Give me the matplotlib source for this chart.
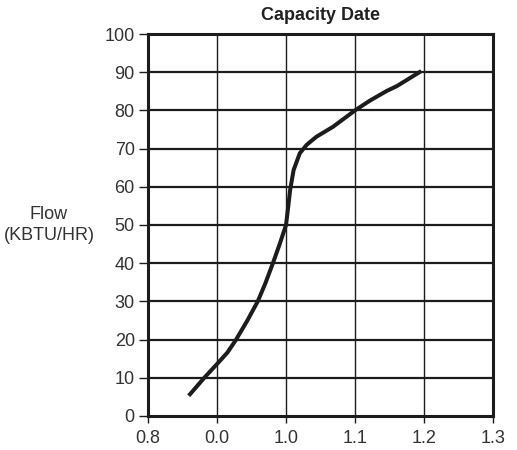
import matplotlib
matplotlib.use("Agg")
import matplotlib.pyplot as plt
import numpy as np

# curve (x = ratio, y = flow in KBTU/HR)
flow_x = [0.859, 0.882, 0.901, 0.915, 0.927, 0.944, 0.959, 0.970, 0.981,
          0.991, 1.000, 1.003, 1.006, 1.011, 1.020, 1.030, 1.044, 1.068,
          1.100, 1.121, 1.146, 1.161, 1.196]
flow_y = [5.3, 10.1, 13.8, 16.6, 19.8, 25.0, 30.0, 34.7, 40.0,
          45.1, 50.0, 54.5, 59.2, 64.4, 68.8, 71.0, 73.1, 75.7,
          80.0, 82.5, 85.1, 86.4, 90.3]

x_ticks = [0.8, 0.9, 1.0, 1.1, 1.2, 1.3]
x_ticklabels = ["0.8", "0.0", "1.0", "1.1", "1.2", "1.3"]
y_ticks = list(range(0, 101, 10))

plt.rcParams['font.family'] = ["Liberation Sans", "DejaVu Sans"]
plt.rcParams['font.size'] = 13
ink = "#1c1c1c"

fig = plt.figure(figsize=(5.17, 4.5), dpi=100)
ax = fig.add_axes([0.2863, 0.0756, 0.6673, 0.8488])

for yv in y_ticks[1:-1]:
    ax.axhline(yv, color=ink, lw=1.6, zorder=1)
for xv in x_ticks[1:-1]:
    ax.axvline(xv, color=ink, lw=1.0, zorder=1)

ax.plot(flow_x, flow_y, color=ink, lw=2.9, solid_capstyle="butt",
        solid_joinstyle="round", zorder=3)

ax.set_xlim(0.8, 1.3)
ax.set_ylim(0, 100)
ax.set_xticks(x_ticks)
ax.set_xticklabels(x_ticklabels)
ax.set_yticks(y_ticks)
for side in ["left", "right", "top", "bottom"]:
    ax.spines[side].set_color(ink)
    ax.spines[side].set_linewidth(2.2)
ax.tick_params(axis="y", length=6.5, width=1.0, pad=3, color=ink, labelcolor="#333333")
ax.tick_params(axis="x", length=5, width=1.0, pad=5, color=ink, labelcolor="#333333")

ax.set_title("Capacity Date", fontweight="bold", fontsize=13, pad=10, color="#222222")

fig.text(49 / 517, 1 - 225 / 450, "Flow\n(KBTU/HR)", ha="center", va="center",
         multialignment="center", fontsize=13, color="#333333", linespacing=1.3)

fig.savefig("out.png", dpi=100)
